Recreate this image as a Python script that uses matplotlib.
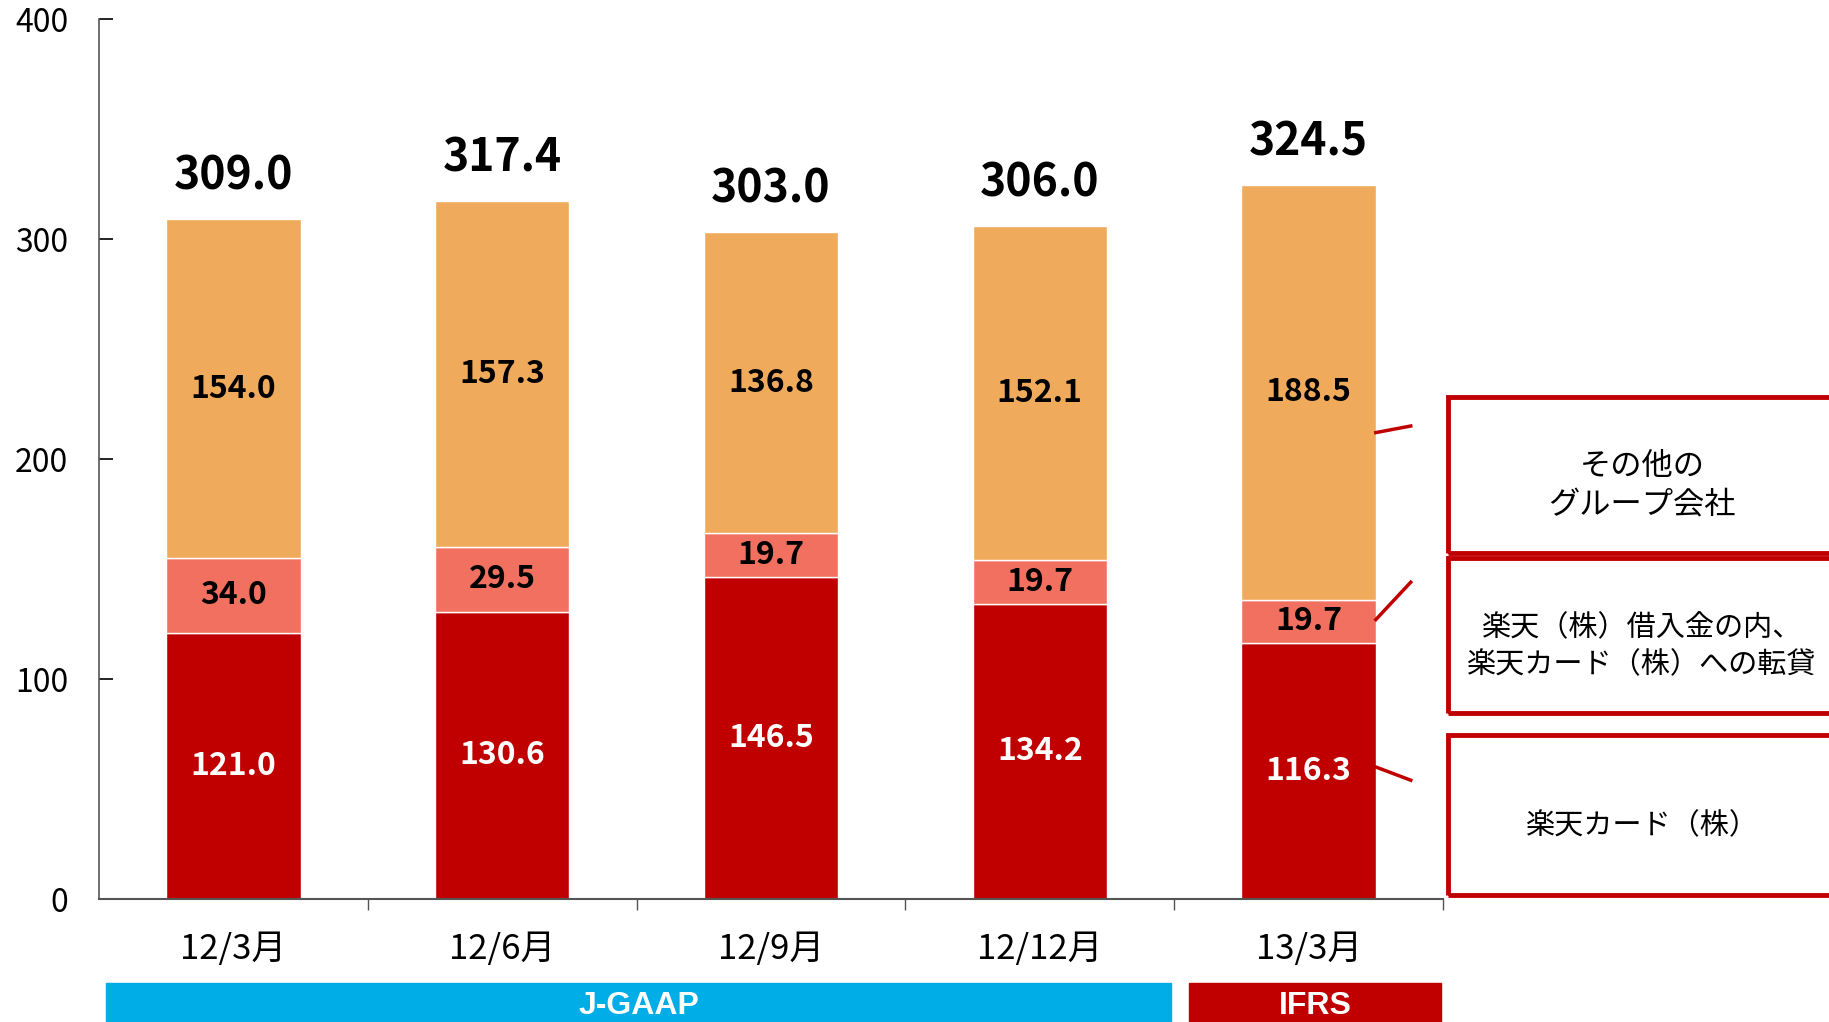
import matplotlib
matplotlib.use("Agg")
import matplotlib.pyplot as plt
from matplotlib.patches import Rectangle
from matplotlib.lines import Line2D
import numpy as np

plt.rcParams['font.family'] = ['Noto Sans CJK JP', 'DejaVu Sans']

# ------------------------------
# Data
# ------------------------------
periods = ["12/3月", "12/6月", "12/9月", "12/12月", "13/3月"]
rakuten_card = [121.0, 130.6, 146.5, 134.2, 116.3]
sublending = [34.0, 29.5, 19.7, 19.7, 19.7]
other_group = [154.0, 157.3, 136.8, 152.1, 188.5]
totals = [309.0, 317.4, 303.0, 306.0, 324.5]
legend_labels = ["その他の\nグループ会社", "楽天（株）借入金の内、\n楽天カード（株）への転貸", "楽天カード（株）"]
legend_sizes = [22.5, 21, 21]
standards = ["J-GAAP", "IFRS"]

c_card = "#C00000"
c_sub = "#F27060"
c_other = "#F0AA5C"
c_jgaap = "#00ADE6"

# ------------------------------
# Figure
# ------------------------------
W, H = 1829, 1022
fig = plt.figure(figsize=(W / 100, H / 100), dpi=100)
ax = fig.add_axes([99 / W, 1 - 899 / H, (1443 - 99) / W, (899 - 19) / H])

x = np.arange(len(periods))
bw = 0.5
b1 = ax.bar(x, rakuten_card, bw, color=c_card, edgecolor="white", linewidth=1)
b2 = ax.bar(x, sublending, bw, bottom=rakuten_card, color=c_sub, edgecolor="white", linewidth=1)
bottom3 = np.array(rakuten_card) + np.array(sublending)
b3 = ax.bar(x, other_group, bw, bottom=bottom3, color=c_other, edgecolor="white", linewidth=1)

ax.bar_label(b1, labels=[f"{v:.1f}" for v in rakuten_card], label_type="center",
             color="white", fontsize=23, fontweight="bold")
ax.bar_label(b2, labels=[f"{v:.1f}" for v in sublending], label_type="center",
             color="black", fontsize=23, fontweight="bold")
ax.bar_label(b3, labels=[f"{v:.1f}" for v in other_group], label_type="center",
             color="black", fontsize=23, fontweight="bold")

for xi, t in zip(x, totals):
    ax.annotate(f"{t:.1f}", (xi, t), xytext=(0, 14), textcoords="offset points",
                ha="center", va="bottom", fontsize=32, fontweight="bold")

ax.set_xlim(-0.5, len(periods) - 0.5)
ax.set_ylim(0, 400)
ax.set_yticks([0, 100, 200, 300, 400])
ax.tick_params(axis="y", direction="in", length=10, width=1.2, labelsize=23, pad=22, colors="black")
ax.set_xticks(x + 0.5, minor=False)
ax.set_xticklabels([])
ax.set_xticks(x, minor=True)
ax.set_xticklabels(periods, minor=True, fontsize=25)
ax.tick_params(axis="x", which="major", direction="out", length=8, width=1, colors="#555555")
ax.tick_params(axis="x", which="minor", length=0, pad=24)
for s in ["top", "right"]:
    ax.spines[s].set_visible(False)
ax.spines["left"].set_color("#555555")
ax.spines["bottom"].set_color("#555555")
ax.spines["left"].set_linewidth(1.2)
ax.spines["bottom"].set_linewidth(1.5)

# ------------------------------
# Legend boxes with leader lines
# ------------------------------
boxes = [(397, 553), (558, 713), (735, 895)]
for (top, bot), lab, fs in zip(boxes, legend_labels, legend_sizes):
    fig.patches.append(Rectangle((1448 / W, 1 - bot / H), 420 / W, (bot - top) / H,
                                 transform=fig.transFigure, fill=False,
                                 edgecolor=c_card, linewidth=3.5))
    fig.text(1642 / W, 1 - ((top + bot) / 2 + 11) / H, lab, ha="center", va="center",
             fontsize=fs, linespacing=1.3)

# leader lines from last bar to boxes (data coords)
leaders = [((4.25, 4.38), (212, 215)), ((4.25, 4.38), (127, 144)), ((4.25, 4.38), (60, 54))]
for xs, ys in leaders:
    ax.add_line(Line2D(xs, ys, color=c_card, linewidth=2.5, clip_on=False))

# ------------------------------
# Accounting standard bands
# ------------------------------
bands = [(106, 1171, c_jgaap), (1189, 1441, c_card)]
for (x0, x1, col), name in zip(bands, standards):
    fig.patches.append(Rectangle((x0 / W, 0), (x1 - x0) / W, (H - 983) / H,
                                 transform=fig.transFigure, color=col))
    fig.text((x0 + x1) / 2 / W, 1 - 1006 / H, name, ha="center", va="center",
             fontsize=23, fontweight="bold", color="white", family="Liberation Sans")

fig.savefig("out.png", dpi=100)
